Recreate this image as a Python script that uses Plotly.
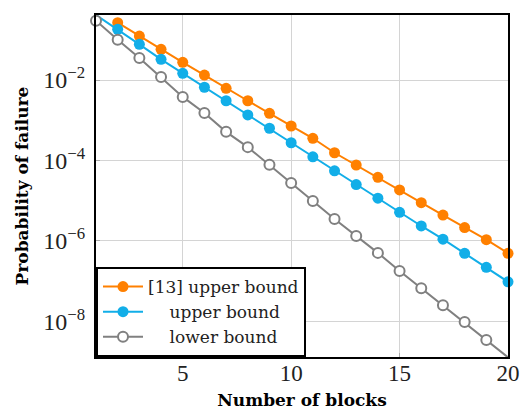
import plotly.graph_objects as go

blocks = list(range(1, 21))
blocks_ref13 = list(range(2, 21))

# [13] upper bound (starts at 2 blocks)
ref13_upper = [2.66e-1, 1.24e-1, 5.81e-2, 2.75e-2, 1.33e-2, 6.22e-3, 3.05e-3, 1.48e-3,
               7.18e-4, 3.55e-4, 1.55e-4, 7.67e-5, 3.80e-5, 1.84e-5, 8.91e-6,
               4.37e-6, 2.14e-6, 1.07e-6, 4.90e-7]
# upper bound
upper = [4.14e-1, 1.82e-1, 7.73e-2, 3.27e-2, 1.47e-2, 6.61e-3, 3.05e-3, 1.35e-3,
         6.31e-4, 2.75e-4, 1.23e-4, 5.50e-5, 2.51e-5, 1.15e-5, 5.13e-6,
         2.34e-6, 1.10e-6, 4.90e-7, 2.19e-7, 9.55e-8]
# lower bound
lower = [2.99e-1, 1.00e-1, 3.55e-2, 1.19e-2, 3.80e-3, 1.51e-3, 5.13e-4, 2.14e-4,
         7.76e-5, 2.75e-5, 9.77e-6, 3.47e-6, 1.32e-6, 5.01e-7, 1.78e-7,
         6.61e-8, 2.51e-8, 9.55e-9, 3.39e-9, 1.26e-9]

x_ticks = [5, 10, 15, 20]
y_ticks = [1e-8, 1e-6, 1e-4, 1e-2]
y_ticktext = ["10<sup>−8</sup>", "10<sup>−6</sup>", "10<sup>−4</sup>", "10<sup>−2</sup>"]

ORANGE = "#ff8000"
BLUE = "#12aee8"
GRAY = "#808080"
FONT = "Liberation Serif"
TFONT = "DejaVu Serif"
nb = "\u00a0"

fig = go.Figure()
fig.add_trace(go.Scatter(
    x=blocks_ref13, y=ref13_upper, mode="lines+markers",
    name="[13] upper bound",
    line=dict(color=ORANGE, width=2),
    marker=dict(color=ORANGE, size=11, symbol="circle"),
    cliponaxis=False,
))
fig.add_trace(go.Scatter(
    x=blocks, y=upper, mode="lines+markers",
    name=nb * 4 + "upper bound",
    line=dict(color=BLUE, width=2),
    marker=dict(color=BLUE, size=11, symbol="circle"),
    cliponaxis=False,
))
fig.add_trace(go.Scatter(
    x=blocks, y=lower, mode="lines+markers",
    name=nb * 4 + "lower bound",
    line=dict(color=GRAY, width=2),
    marker=dict(color="white", size=10, symbol="circle",
                line=dict(color=GRAY, width=2)),
    cliponaxis=False,
))

fig.update_layout(
    width=521, height=410,
    margin=dict(l=96, r=13, t=15, b=53, autoexpand=False),
    paper_bgcolor="white", plot_bgcolor="white",
    font=dict(family=FONT, color="black", size=18),
    showlegend=True,
    legend=dict(
        x=0, y=0, xanchor="left", yanchor="bottom",
        bgcolor="white", bordercolor="black", borderwidth=2,
        font=dict(family=TFONT, size=17, color="#222"),
        itemwidth=40, tracegroupgap=0,
    ),
)
fig.update_xaxes(
    range=[1, 20], tickvals=x_ticks, automargin=False,
    showline=True, linecolor="black", linewidth=2, mirror=True,
    showgrid=True, gridcolor="#d4d4d4", gridwidth=1,
    ticks="inside", ticklen=4, tickcolor="#aaaaaa",
    tickfont=dict(family=FONT, size=23, color="#222"),
    ticklabelstandoff=-6,
    ticklabeloverflow="allow",
    zeroline=False,
    title=dict(text="<b>Number of blocks</b>", font=dict(family=TFONT, size=17), standoff=14),
)
fig.update_yaxes(
    type="log", range=[-8.89, -0.383], automargin=False,
    tickvals=y_ticks, ticktext=y_ticktext,
    showline=True, linecolor="black", linewidth=2, mirror=True,
    showgrid=True, gridcolor="#d4d4d4", gridwidth=1,
    ticks="inside", ticklen=4, tickcolor="#aaaaaa",
    tickfont=dict(family=FONT, size=24, color="#222"),
    ticklabelstandoff=4,
    zeroline=False,
    title=dict(text="<b>Probability of failure</b>", font=dict(family=TFONT, size=17), standoff=10),
)

fig.write_html("out.html", config={"displayModeBar": False},
               post_script="document.body.style.margin='0';")
